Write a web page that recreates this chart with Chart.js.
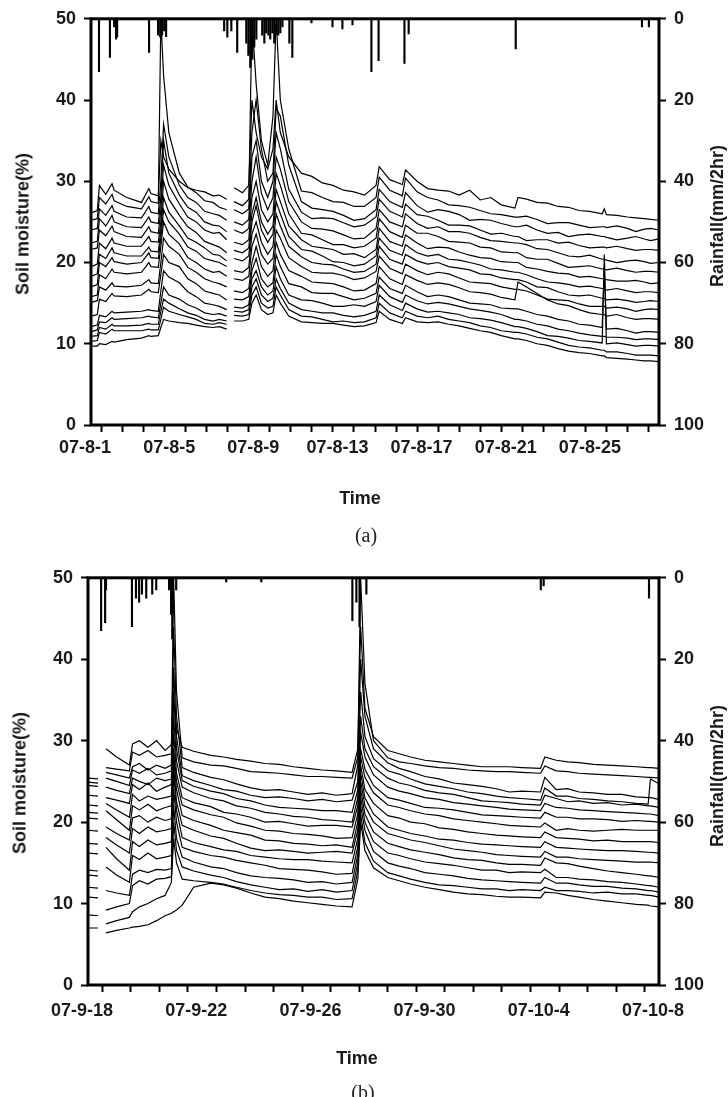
<!DOCTYPE html>
<html>
<head>
<meta charset="utf-8">
<script src="https://cdn.jsdelivr.net/npm/chart.js@4.4.1/dist/chart.umd.min.js"></script>
<style>
  body { margin: 0; background: #fff; }
  #wrap { position: relative; width: 728px; height: 1097px; overflow: hidden; }
  canvas { position: absolute; left: 0; }
  .lbl { position: absolute; font: bold 18px "Liberation Sans", Arial, sans-serif; color: #1a1a1a; white-space: nowrap; transform: translate(-50%, -50%); }
  .rot { transform: translate(-50%, -50%) rotate(-90deg); }
  .cap { position: absolute; font: 20px "Liberation Serif", serif; color: #222; transform: translate(-50%, -50%); }
</style>
</head>
<body>
<div id="wrap">
  <canvas id="chartA" width="728" height="510" style="top:0"></canvas>
  <canvas id="chartB" width="728" height="510" style="top:559px"></canvas>

  <div class="lbl rot" style="left:23px;top:224px">Soil moisture(%)</div>
  <div class="lbl rot" style="left:717px;top:216px">Rainfall(mm/2hr)</div>
  <div class="lbl" style="left:360px;top:498px">Time</div>
  <div class="cap" style="left:366px;top:535px">(a)</div>

  <div class="lbl rot" style="left:20px;top:783px">Soil moisture(%)</div>
  <div class="lbl rot" style="left:717px;top:776px">Rainfall(mm/2hr)</div>
  <div class="lbl" style="left:357px;top:1058px">Time</div>
  <div class="cap" style="left:363px;top:1092px">(b)</div>
</div>
<script>
// ---- panel (a): 07-8-1 .. 07-8-28, time in days from 1 Aug ----
const xLabelsA = ['07-8-1', '07-8-5', '07-8-9', '07-8-13', '07-8-17', '07-8-21', '07-8-25'];
const tA = [0, 0.3, 0.4, 0.7, 1.0, 1.1, 1.7, 2.4, 2.75, 2.85,
  3.2, 3.32, 3.45, 3.7, 4.2, 4.6, 5.0, 5.4, 5.8, 6.1,
  6.45, 6.6, 6.8, 7.2, 7.5, 7.65, 7.85, 8.1, 8.4, 8.65,
  8.8, 9.0, 9.4, 10.0, 10.5, 11.0, 11.5, 12.0, 12.5, 13.0,
  13.55, 13.7, 14.2, 14.8, 14.95, 15.5, 16.0, 16.5, 17.0, 17.5,
  18.0, 18.5, 19.0, 19.5, 20.15, 20.3, 20.7, 21.2, 21.7, 22.2,
  22.7, 23.2, 23.7, 24.3, 24.4, 24.5, 25.0, 25.5, 25.9, 26.3,
  26.6, 27.0];

const a01 = [26.1, 26.4, 29.5, 28.4, 29.7, 28.9, 28.0, 27.4, 29.1, 28.5,
  28.2, 35, 33, 31.5, 30.0, 29.2, 28.9, 28.7, 28.2, 28.3,
  27.8, null, 29.2, 28.6, 29.5, 40, 36, 33, 31.5, 34,
  40, 36, 33, 31.0, 30.6, 29.8, 29.5, 28.9, 28.7, 28.3,
  29.5, 31.8, 30.2, 29.6, 31.4, 30.0, 29.1, 28.9, 28.8, 28.3,
  28.9, 27.7, 28.0, 27.1, 26.7, 28.0, 27.8, 27.4, 27.3, 26.9,
  26.8, 26.4, 26.3, 26.0, 26.6, 25.9, 25.8, 25.6, 25.5, 25.4,
  25.3, 25.2];
const a02 = [25.2, 25.4, 28.0, 27.2, 28.4, 27.6, 26.9, 26.6, 28.1, 27.5,
  27.3, 50, 43, 36, 31, 29.3, 28.6, 27.6, 27.4, 26.8,
  26.5, null, 27.5, 27.0, 27.8, 50, 42, 35, 32, 38,
  50, 40, 34, 28.8, 28.6, 28.0, 27.5, 27.4, 26.9, 26.9,
  28.0, 30.5, 28.9, 28.2, 30.4, 28.7, 28.0, 27.7, 27.1, 27.0,
  26.8, 26.4, 26.0, 25.9, 25.6, 25.6, 25.7, 25.3, 24.8, 24.9,
  24.9, 24.6, 24.3, 24.4, 24.4, 24.3, 24.5, 24.2, 23.8, 24.1,
  24.2, 24.0];
const a03 = [24.0, 24.2, 26.6, 25.8, 27.0, 26.3, 25.6, 25.5, 26.9, 26.2,
  26.0, 30, 37, 33, 29.5, 28.0, 27.4, 26.3, 26.0, 25.8,
  25.2, null, 26.5, 26.0, 26.6, 36, 40, 34, 30, 31,
  39, 38, 32, 27.5, 26.7, 26.5, 26.3, 25.8, 25.2, 25.4,
  26.5, 29.0, 27.5, 26.8, 28.6, 27.0, 26.2, 26.5, 26.3, 25.9,
  25.2, 25.3, 25.2, 24.8, 24.4, 24.4, 24.6, 24.0, 23.6, 23.7,
  23.2, 23.4, 23.5, 23.2, 23.2, 23.1, 22.8, 23.0, 23.2, 22.9,
  22.7, 22.9];
const a04 = [22.4, 22.6, 25.4, 24.5, 25.8, 25.0, 24.4, 24.3, 25.6, 25.0,
  24.8, 28, 35, 31, 28.3, 26.8, 26.2, 25.0, 24.6, 24.5,
  23.8, null, 25.0, 24.6, 25.3, 33, 35, 30, 28, 30,
  36, 34, 29, 26.2, 25.4, 25.5, 25.4, 24.9, 24.4, 24.6,
  25.6, 27.8, 26.3, 25.6, 27.2, 25.9, 25.7, 25.2, 24.6, 24.6,
  24.5, 24.0, 23.5, 23.6, 23.2, 23.2, 22.7, 22.8, 22.8, 22.4,
  22.5, 22.1, 21.8, 21.9, 21.9, 21.8, 22.0, 21.7, 21.5, 21.6,
  21.6, 21.5];
const a05 = [21.6, 21.8, 24.0, 23.3, 24.5, 23.8, 23.2, 23.1, 24.4, 23.8,
  23.6, 26.5, 32, 29.5, 27.2, 25.6, 25.0, 24.0, 23.6, 23.7,
  22.8, null, 24.0, 23.6, 24.2, 30, 33, 28.5, 26.5, 28,
  33, 31.5, 27.5, 25.0, 24.2, 24.1, 23.9, 23.4, 22.9, 23.0,
  24.2, 26.5, 25.0, 24.4, 26.0, 24.8, 24.2, 24.4, 23.8, 23.8,
  23.6, 23.1, 22.7, 22.6, 22.4, 22.4, 22.2, 21.7, 21.6, 21.2,
  20.8, 20.7, 20.9, 20.4, 20.4, 20.3, 20.0, 20.2, 20.3, 20.1,
  19.9, 20.0];
const a06 = [19.5, 19.8, 22.4, 21.7, 23.0, 22.4, 22.0, 22.0, 23.2, 22.6,
  22.5, 25, 30, 27.8, 25.8, 24.4, 23.7, 22.6, 22.2, 21.9,
  21.2, null, 22.5, 22.2, 22.8, 28, 30, 26.5, 25.0, 26,
  31, 29.5, 26.0, 23.6, 23.4, 22.8, 22.2, 22.2, 21.8, 22.0,
  23.0, 25.4, 23.8, 23.1, 24.6, 23.6, 23.6, 23.2, 22.6, 22.5,
  22.4, 21.9, 21.8, 21.3, 21.2, 21.2, 20.6, 20.4, 20.4, 19.9,
  19.4, 19.5, 19.6, 19.2, 19.2, 19.1, 19.3, 19.0, 18.8, 18.9,
  18.9, 18.8];
const a07 = [18.3, 18.6, 21.0, 20.5, 21.8, 21.2, 20.8, 20.8, 21.9, 21.4,
  21.3, 24, 28, 26.2, 24.5, 23.0, 22.5, 21.8, 21.0, 20.9,
  20.2, null, 21.5, 21.2, 21.8, 26, 28, 25, 23.5, 24.5,
  29, 27.5, 24.5, 22.8, 22.0, 21.8, 21.6, 21.0, 21.1, 20.6,
  21.6, 24.2, 22.6, 22.0, 23.4, 22.4, 21.7, 21.9, 21.8, 21.3,
  20.9, 20.6, 20.5, 20.1, 20.0, 20.0, 19.4, 19.2, 18.9, 18.7,
  18.6, 18.2, 18.3, 18.0, 18.0, 17.9, 17.7, 17.7, 17.8, 17.6,
  17.4, 17.5];
const a08 = [17.0, 17.3, 20.0, 19.5, 20.6, 20.1, 19.8, 20.0, 21.2, 20.6,
  20.5, 23, 26.5, 25.0, 23.5, 21.9, 21.4, 20.5, 20.2, 20.0,
  19.5, null, 20.5, 20.2, 20.8, 25, 27, 24, 22.5, 23.5,
  27.5, 26, 23.2, 21.6, 21.4, 20.8, 20.1, 20.0, 19.6, 19.8,
  20.8, 23.0, 21.5, 20.9, 22.2, 21.2, 20.8, 21.0, 20.4, 20.3,
  20.0, 19.7, 19.2, 19.1, 18.8, 18.8, 18.5, 18.0, 17.6, 17.5,
  17.3, 17.0, 17.1, 16.8, 16.8, 16.6, 16.8, 16.5, 16.3, 16.4,
  16.4, 16.3];
const a09 = [15.8, 16.0, 18.5, 18.0, 19.2, 18.8, 18.6, 18.8, 20.0, 19.5,
  19.4, 22, 25, 23.5, 22.3, 20.6, 20.0, 19.2, 18.8, 18.9,
  18.3, null, 19.0, 18.8, 19.4, 23.5, 25, 22.5, 21.0, 22,
  26, 24.5, 22.0, 20.7, 20.0, 19.8, 19.7, 19.2, 18.8, 18.9,
  19.8, 22.0, 20.4, 19.8, 21.0, 20.2, 19.8, 20.0, 19.5, 19.3,
  19.1, 18.6, 18.5, 18.1, 17.9, 17.9, 17.6, 17.0, 16.9, 16.4,
  16.0, 15.9, 16.0, 15.6, 15.6, 15.4, 15.5, 15.3, 15.1, 15.2,
  15.3, 15.2];
const a10 = [15.1, 15.3, 17.0, 16.6, 17.5, 17.1, 17.0, 17.2, 17.9, 17.5,
  17.4, 20, 23, 22.0, 21.0, 19.4, 18.8, 18.0, 17.6, 17.4,
  17.0, null, 18.0, 17.8, 18.3, 22, 23.5, 21, 19.8, 20.5,
  24, 23, 20.6, 19.5, 18.8, 18.7, 18.7, 18.4, 17.9, 18.1,
  18.9, 20.8, 19.3, 18.6, 19.8, 19.0, 18.5, 18.8, 18.6, 18.1,
  17.6, 17.5, 17.4, 17.0, 16.7, 16.7, 16.5, 16.0, 15.5, 15.4,
  15.3, 14.9, 14.6, 14.6, 14.6, 14.4, 14.5, 14.3, 14.0, 14.2,
  14.3, 14.2];
const a11 = [13.4, 13.6, 15.5, 15.2, 16.2, 15.9, 15.8, 16.0, 16.7, 16.4,
  16.3, 18.5, 21, 20.0, 19.5, 18.0, 17.4, 16.5, 16.2, 16.0,
  15.4, null, 16.5, 16.3, 16.8, 20, 22, 19.5, 18.3, 19,
  22.5, 21, 19.0, 18.3, 17.6, 17.5, 17.4, 17.0, 16.5, 16.6,
  17.4, 19.5, 18.0, 17.3, 18.5, 17.8, 17.3, 17.5, 17.3, 16.9,
  16.4, 16.3, 16.1, 15.7, 15.4, 17.6, 17.0, 16.2, 15.4, 14.9,
  14.7, 14.2, 13.8, 13.6, 13.6, 13.4, 13.6, 13.2, 13.0, 13.1,
  13.1, 13.0];
const a12 = [12.1, 12.3, 13.5, 13.3, 14.0, 13.8, 13.9, 14.0, 14.2, 14.1,
  14.0, 16.5, 19, 18.2, 17.5, 16.4, 15.8, 15.0, 14.8, 14.6,
  14.2, null, 15.5, 15.4, 15.8, 19, 20.5, 18, 17.0, 17.5,
  21, 19.5, 17.4, 17.0, 16.3, 16.2, 16.2, 15.8, 15.4, 15.6,
  16.2, 18.2, 16.8, 16.2, 17.2, 16.4, 15.8, 16.0, 15.8, 15.4,
  15.0, 14.9, 14.8, 14.4, 14.3, 14.3, 14.0, 13.6, 13.4, 13.0,
  12.8, 12.4, 12.3, 12.0, 19.5, 11.8, 11.9, 11.6, 11.3, 11.5,
  11.5, 11.4];
const a13 = [11.5, 11.7, 12.7, 12.6, 13.2, 13.0, 13.1, 13.2, 13.4, 13.3,
  13.2, 15, 17, 16.0, 15.5, 14.8, 14.4, 13.8, 13.6, 13.7,
  13.4, null, 14.5, 14.4, 14.8, 18, 19, 17, 16, 16.5,
  19.5, 18, 16.0, 15.4, 15.3, 15.0, 14.6, 14.6, 14.8, 14.6,
  15.2, 17.2, 15.8, 15.1, 16.0, 15.3, 14.9, 15.1, 14.9, 14.6,
  14.3, 14.1, 13.9, 13.6, 13.0, 13.0, 12.8, 12.4, 12.2, 11.8,
  11.6, 11.3, 11.1, 10.9, 10.9, 10.8, 10.8, 10.7, 10.5, 10.6,
  10.6, 10.5];
const a14 = [10.9, 11.0, 12.0, 11.8, 12.4, 12.2, 12.2, 12.3, 12.5, 12.4,
  12.4, 14, 15.5, 15.0, 14.3, 13.8, 13.5, 13.0, 12.8, 13.0,
  12.8, null, 14.0, 13.9, 14.2, 17, 18, 16, 15.2, 15.6,
  18, 16.8, 15.0, 14.2, 14.0, 13.8, 13.8, 13.5, 13.3, 13.5,
  14.0, 16.0, 14.8, 14.1, 15.0, 14.3, 13.9, 14.0, 13.8, 13.6,
  13.2, 13.1, 12.9, 12.6, 12.1, 12.1, 11.9, 11.5, 11.0, 10.9,
  10.7, 10.4, 10.3, 10.1, 21.0, 10.0, 10.1, 9.9, 9.7, 9.8,
  9.8, 9.7];
const a15 = [10.3, 10.4, 11.4, 11.2, 11.8, 11.6, 11.6, 11.6, 11.8, 11.7,
  11.7, 13, 14.5, 14.0, 13.6, 13.3, 13.0, 12.5, 12.4, 12.6,
  12.4, null, 13.5, 13.4, 13.6, 16, 17, 15, 14.4, 14.6,
  17, 16, 14.2, 13.4, 13.3, 13.0, 12.7, 12.8, 12.6, 12.7,
  13.2, 15.0, 13.8, 13.2, 14.0, 13.4, 13.2, 13.4, 13.0, 12.8,
  12.6, 12.2, 12.0, 11.6, 11.4, 11.4, 11.2, 10.8, 10.6, 10.2,
  9.8, 9.6, 9.5, 9.2, 9.2, 9.0, 9.0, 8.8, 8.6, 8.6,
  8.6, 8.5];
const a16 = [9.7, 9.7, 10.0, 9.9, 10.3, 10.2, 10.5, 10.7, 11.0, 10.9,
  11.0, 12, 13.0, 12.8, 12.6, 12.5, 12.3, 12.1, 12.0, 12.1,
  11.8, null, 12.8, 12.8, 13.0, 15, 16, 14.2, 13.6, 13.8,
  16, 15, 13.4, 12.7, 12.6, 12.5, 12.5, 12.3, 12.1, 12.2,
  12.6, 14.0, 13.0, 12.5, 13.2, 12.7, 12.6, 12.7, 12.4, 12.2,
  11.9, 11.6, 11.4, 11.0, 10.6, 10.6, 10.4, 10.0, 9.8, 9.4,
  9.1, 8.9, 8.8, 8.5, 8.5, 8.3, 8.2, 8.1, 8.0, 7.9,
  7.9, 7.8];

const rainTA = [0.38, 0.9, 1.1, 1.19, 1.24, 2.76, 3.19, 3.29, 3.38, 3.48, 3.57, 6.33, 6.48, 6.67, 6.95,
  7.38, 7.48, 7.57, 7.67, 7.76, 7.86, 8.14, 8.24, 8.33, 8.43, 8.52, 8.62, 8.71, 8.81, 8.9,
  9.0, 9.1, 9.43, 9.57, 10.48, 11.48, 11.95, 12.43, 13.33, 13.67, 14.9, 15.1, 20.19, 26.19, 26.52];
const rainA = [13, 9.5, 2, 5, 4.5, 8.3, 4, 4.5, 4, 3, 4.4, 3, 4.5, 3, 8.3,
  6, 9, 12, 10, 7, 5, 4, 6, 3.5, 4, 5, 3.5, 6, 3, 4,
  3.5, 2, 6, 9.5, 1, 2, 2.5, 1.5, 13, 10.3, 11, 3.7, 7.4, 2, 2];

// ---- panel (b): 07-9-18 .. 07-10-8, time in days from 18 Sep ----
const xLabelsB = ['07-9-18', '07-9-22', '07-9-26', '07-9-30', '07-10-4', '07-10-8'];
const tB = [0, 0.35, 0.45, 0.63, 1.0, 1.45, 1.56, 1.8, 2.1, 2.4,
  2.7, 2.92, 3.0, 3.1, 3.3, 3.7, 4.3, 4.75, 5.2, 5.7,
  6.2, 6.7, 7.2, 7.7, 8.2, 8.7, 9.25, 9.45, 9.55, 9.7,
  10.0, 10.5, 10.9, 11.3, 11.8, 12.3, 12.8, 13.3, 13.8, 14.3,
  14.75, 15.2, 15.85, 16.0, 16.4, 16.8, 17.2, 17.7, 18.2, 18.7,
  19.2, 19.62, 19.7, 20];

const b01 = [25.4, 25.3, null, 29.0, 28.0, 27.0, 29.6, 30.0, 29.2, 30.0,
  28.8, 29.5, 35, 31.5, 29.2, 28.7, 28.2, 28.0, 27.7, 27.5,
  27.2, 27.1, 26.8, 26.6, 26.4, 26.3, 26.1, 29, 44, 34,
  30.5, 28.8, 28.4, 28.0, 27.6, 27.4, 27.2, 27.0, 26.8, 26.8,
  26.8, 26.7, 26.6, 28.0, 27.6, 27.4, 27.3, 27.1, 27.0, 26.9,
  26.8, 26.7, 26.7, 26.6];
const b02 = [24.9, 24.8, null, 26.7, 26.5, 26.3, 28.6, 28.2, 28.8, 28.0,
  28.2, 28.4, 50, 36, 27.9, 27.4, 27.0, 26.9, 26.6, 26.2,
  26.1, 26.0, 25.8, 25.6, 25.6, 25.5, 25.4, 28, 50, 37,
  30.0, 27.9, 27.4, 27.2, 26.9, 26.7, 26.6, 26.4, 26.3, 26.2,
  26.2, 26.1, 26.0, 26.9, 26.3, 26.2, 26.0, 25.9, 25.8, 25.7,
  25.6, 25.5, 25.5, 25.4];
const b03 = [24.5, 24.4, null, 26.1, 25.8, 25.4, 26.8, 27.2, 26.4, 27.0,
  26.6, 27.0, 44, 33, 26.7, 26.1, 25.5, 25.2, 24.7, 24.2,
  23.9, 24.0, 23.7, 23.4, 23.6, 23.3, 23.5, 27, 40, 33,
  29.0, 27.3, 26.6, 26.2, 25.6, 25.3, 24.8, 24.6, 24.4, 24.1,
  23.7, 23.8, 23.7, 25.5, 24.0, 24.1, 23.7, 23.6, 23.4, 23.4,
  23.1, 23.0, 23.0, 22.8];
const b04 = [23.3, 23.2, null, 25.4, 25.0, 24.5, 26.4, 26.0, 26.6, 25.8,
  26.0, 26.3, 39, 30.5, 25.7, 25.1, 24.5, 24.0, 23.8, 23.3,
  23.0, 23.1, 22.9, 22.6, 22.8, 22.5, 22.7, 25, 36, 30.5,
  27.8, 26.3, 25.9, 25.3, 24.7, 24.4, 24.1, 23.7, 23.5, 23.2,
  23.0, 22.9, 22.7, 24.2, 23.2, 23.2, 22.9, 22.8, 22.6, 22.5,
  22.3, 22.2, 25.3, 24.7];
const b05 = [22.1, 22.0, null, 24.3, 23.9, 23.5, 25.4, 25.0, 24.6, 25.4,
  25.1, 25.3, 36, 29, 25.1, 24.4, 23.8, 23.5, 22.9, 22.6,
  22.1, 21.8, 21.7, 21.6, 21.4, 21.4, 21.2, 24, 33, 29,
  26.8, 25.4, 24.8, 24.5, 23.9, 23.6, 23.4, 23.0, 22.6, 22.5,
  22.4, 22.2, 22.1, 23.3, 22.9, 22.5, 22.6, 22.3, 22.4, 22.1,
  22.2, 22.0, 22.0, 21.8];
const b06 = [21.2, 21.1, null, 23.0, 22.7, 22.3, 24.6, 24.0, 24.8, 23.8,
  24.3, 24.6, 33, 27.5, 24.3, 23.6, 22.9, 22.6, 22.0, 21.7,
  21.2, 21.0, 20.7, 20.6, 20.3, 20.2, 20.0, 23, 31, 28,
  25.8, 24.3, 23.8, 23.5, 23.0, 22.8, 22.4, 22.2, 22.0, 21.8,
  21.6, 21.5, 21.4, 22.3, 21.8, 21.7, 21.5, 21.4, 21.3, 21.2,
  21.1, 21.0, 21.0, 20.8];
const b07 = [20.5, 20.4, null, 22.3, 21.5, 20.6, 23.4, 22.6, 23.2, 22.8,
  23.0, 23.2, 31, 26, 23.0, 22.4, 21.9, 21.2, 21.0, 20.6,
  20.0, 20.1, 19.8, 19.5, 19.6, 19.6, 19.4, 22, 29, 26.5,
  24.5, 23.0, 22.7, 22.3, 21.8, 21.7, 21.5, 21.2, 20.9, 20.8,
  20.7, 20.6, 20.5, 21.2, 20.6, 20.6, 20.4, 20.4, 20.3, 20.1,
  20.2, 20.1, 20.1, 20.0];
const b08 = [19.0, 18.9, null, 21.4, 20.3, 19.0, 22.0, 21.5, 22.2, 21.4,
  21.8, 22.0, 29, 25, 22.1, 21.5, 20.9, 20.6, 19.9, 19.5,
  19.0, 18.9, 18.6, 18.5, 18.3, 18.0, 18.1, 21, 28, 25.5,
  23.6, 22.1, 21.8, 21.4, 21.0, 20.8, 20.4, 20.2, 20.0, 19.8,
  19.6, 19.5, 19.4, 19.9, 19.0, 19.2, 19.0, 18.9, 19.0, 19.1,
  19.0, 19.0, 19.0, 19.0];
const b09 = [17.4, 17.3, null, 19.4, 18.6, 17.8, 20.5, 20.8, 20.0, 20.6,
  20.2, 20.4, 28, 24, 20.8, 20.2, 19.6, 19.0, 18.7, 18.4,
  17.8, 17.7, 17.4, 17.3, 17.1, 17.2, 16.9, 20, 27, 24,
  22.3, 20.8, 20.5, 20.0, 19.8, 19.3, 19.1, 18.8, 18.6, 18.4,
  18.3, 18.2, 18.1, 18.8, 18.1, 18.0, 17.9, 17.7, 17.8, 17.6,
  17.6, 17.6, 17.6, 17.5];
const b10 = [16.2, 16.1, null, 18.1, 17.2, 16.2, 19.2, 18.6, 19.4, 18.8,
  19.0, 19.2, 27, 22.5, 19.6, 19.0, 18.3, 18.0, 17.4, 16.8,
  16.5, 16.6, 16.4, 16.2, 16.3, 16.4, 16.2, 19, 26, 23,
  21.0, 19.4, 19.0, 18.6, 18.3, 17.9, 17.8, 17.5, 17.3, 17.2,
  17.1, 17.0, 16.9, 17.6, 16.9, 16.8, 16.7, 16.6, 16.5, 16.5,
  16.4, 16.3, 16.3, 16.2];
const b11 = [14.1, 14.0, null, 16.9, 15.5, 14.1, 17.6, 17.0, 17.8, 17.2,
  17.4, 17.6, 26, 21.5, 18.1, 17.5, 17.0, 16.6, 16.4, 15.9,
  15.7, 15.5, 15.4, 15.4, 15.2, 15.1, 15.0, 18, 25, 22,
  20.0, 18.6, 18.2, 17.8, 17.5, 17.1, 16.7, 16.5, 16.3, 16.0,
  15.9, 15.8, 15.7, 16.4, 15.7, 15.7, 15.5, 15.4, 15.3, 15.2,
  15.1, 15.1, 15.1, 15.0];
const b12 = [13.5, 13.4, null, 14.5, 13.5, 12.6, 15.9, 15.4, 16.2, 15.5,
  15.7, 15.9, 24, 20, 16.9, 16.4, 15.9, 15.7, 15.3, 15.0,
  14.7, 14.3, 14.2, 14.1, 13.9, 13.6, 13.7, 17, 24, 21,
  18.8, 17.4, 17.0, 16.6, 16.3, 16.0, 15.6, 15.4, 15.3, 15.0,
  14.8, 14.8, 14.7, 15.6, 15.0, 14.9, 14.6, 14.3, 14.0, 13.8,
  13.6, 13.4, 13.4, 13.2];
const b13 = [12.0, 11.9, null, 11.6, 11.3, 11.0, 13.6, 14.1, 13.8, 14.2,
  14.1, 14.3, 22, 18, 15.7, 15.1, 14.5, 14.3, 13.8, 13.4,
  13.2, 13.1, 12.9, 12.6, 12.7, 12.4, 12.6, 16, 23, 20,
  17.6, 16.2, 15.9, 15.5, 15.1, 14.9, 14.7, 14.4, 14.1, 14.1,
  13.8, 13.9, 13.8, 14.2, 13.2, 13.2, 13.0, 12.9, 12.7, 12.6,
  12.4, 12.2, 12.2, 12.0];
const b14 = [10.8, 10.7, null, 9.2, 9.6, 10.0, 12.2, 12.8, 12.4, 13.0,
  13.1, 13.3, 20, 16.5, 14.5, 14.0, 13.5, 13.2, 12.7, 12.3,
  12.0, 11.7, 11.8, 11.5, 11.7, 11.4, 11.6, 15, 22, 19,
  16.4, 15.0, 14.6, 14.3, 13.8, 13.6, 13.4, 13.1, 12.9, 12.8,
  12.7, 12.6, 12.5, 13.2, 12.5, 12.5, 12.3, 12.1, 12.1, 11.9,
  11.8, 11.6, 11.6, 11.4];
const b15 = [8.6, 8.5, null, 7.5, 7.9, 8.3, 9.0, 9.6, 10.0, 10.6,
  11.0, 12.6, 18, 15, 13.0, 12.8, 12.6, 12.4, 12.0, 11.6,
  11.3, 11.1, 11.0, 10.8, 10.8, 10.5, 10.6, 14, 21, 17.5,
  15.2, 13.8, 13.4, 13.0, 12.6, 12.3, 12.2, 12.0, 11.8, 11.8,
  11.6, 11.7, 11.6, 12.0, 11.6, 11.6, 11.5, 11.3, 11.4, 11.2,
  11.2, 11.0, 11.0, 10.8];
const b16 = [7.0, 7.0, null, 6.4, 6.7, 7.0, 7.1, 7.2, 7.4, 7.9,
  8.5, 8.8, 9.0, 9.2, 9.8, 12.0, 12.5, 12.3, 11.9, 11.3,
  10.8, 10.6, 10.3, 10.1, 9.9, 9.7, 9.6, 13, 20, 16.5,
  14.4, 13.2, 12.8, 12.4, 12.0, 11.7, 11.4, 11.2, 11.1, 10.9,
  10.8, 10.8, 10.7, 11.4, 11.3, 11.0, 10.8, 10.5, 10.3, 10.1,
  9.9, 9.8, 9.7, 9.6];

const rainTB = [0.46, 0.6, 0.63, 1.54, 1.68, 1.79, 1.89, 2.04, 2.25, 2.39, 2.84, 2.91, 2.95, 3.09,
  4.84, 6.07, 9.26, 9.4, 9.51, 9.75, 15.86, 15.96, 19.65];
const rainB = [13, 11, 3, 12, 5, 6, 4, 5, 4, 3, 3, 9, 15, 3, 1, 1, 10.5, 6, 12, 4, 3, 2, 5];

const seriesA = [a01, a02, a03, a04, a05, a06, a07, a08, a09, a10, a11, a12, a13, a14, a15, a16];
const seriesB = [b01, b02, b03, b04, b05, b06, b07, b08, b09, b10, b11, b12, b13, b14, b15, b16];

const tickFont = { family: '"Liberation Sans", Arial, sans-serif', size: 18, weight: 'bold' };
const ink = '#1a1a1a';

// thick box round the plot area, like the original
const framePlugin = {
  id: 'frame',
  afterDatasetsDraw(chart) {
    const { ctx, chartArea: a } = chart;
    ctx.save();
    ctx.strokeStyle = '#000';
    ctx.lineWidth = 3;
    ctx.strokeRect(a.left, a.top, a.right - a.left, a.bottom - a.top);
    ctx.restore();
  }
};

function tickGrid() {
  return { drawOnChartArea: false, drawTicks: true, tickLength: 7, tickWidth: 2, tickColor: '#000', color: '#000' };
}

function buildChart(id, times, series, rainT, rainV, xMax, xLabels, leftW, xH, xPad) {
  const datasets = series.map(vals => ({
    type: 'line',
    data: times.map((t, i) => ({ x: t, y: vals[i] })),
    borderColor: '#000',
    borderWidth: 1.2,
    pointRadius: 0,
    tension: 0,
    spanGaps: false,
    yAxisID: 'y'
  }));
  datasets.push({
    type: 'bar',
    data: rainT.map((t, i) => ({ x: t, y: rainV[i] })),
    backgroundColor: '#000',
    borderWidth: 0,
    barThickness: 1.5,
    yAxisID: 'y1'
  });

  return new Chart(document.getElementById(id), {
    type: 'line',
    data: { datasets },
    plugins: [framePlugin],
    options: {
      responsive: false,
      animation: false,
      devicePixelRatio: 1,
      layout: { padding: { top: 18, left: 0, right: 0, bottom: 0 } },
      plugins: { legend: { display: false }, tooltip: { enabled: false } },
      scales: {
        x: {
          type: 'linear',
          min: 0,
          max: xMax,
          offset: false,
          border: { display: false },
          grid: tickGrid(),
          ticks: {
            stepSize: 1,
            autoSkip: false,
            maxRotation: 0,
            labelOffset: -6,
            padding: xPad,
            font: tickFont,
            color: ink,
            callback: v => {
              const d = Math.round(v);
              return d % 4 === 0 && xLabels[d / 4] ? xLabels[d / 4] : '';
            }
          },
          afterFit: s => { s.height = xH; }
        },
        y: {
          position: 'left',
          min: 0,
          max: 50,
          border: { display: false },
          grid: tickGrid(),
          ticks: { stepSize: 10, padding: 8, font: tickFont, color: ink },
          afterFit: s => { s.width = leftW; }
        },
        y1: {
          position: 'right',
          min: 0,
          max: 100,
          reverse: true,
          border: { display: false },
          grid: tickGrid(),
          ticks: { stepSize: 20, padding: 8, font: tickFont, color: ink },
          afterFit: s => { s.width = 69; }
        }
      }
    }
  });
}

buildChart('chartA', tA, seriesA, rainTA, rainA, 27, xLabelsA, 91, 85, 5);
buildChart('chartB', tB, seriesB, rainTB, rainB, 20, xLabelsB, 88, 84, 8);
</script>
</body>
</html>
